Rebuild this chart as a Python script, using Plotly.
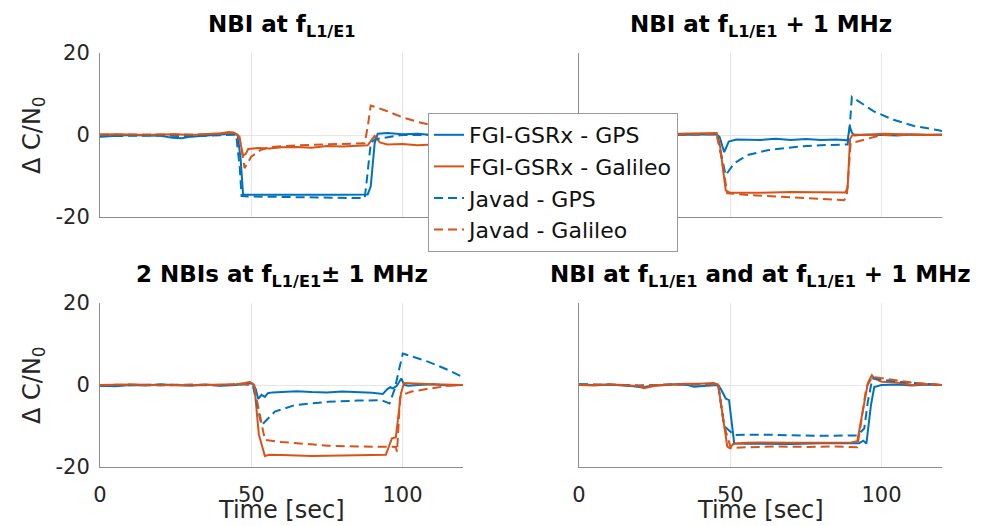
import plotly.graph_objects as go

# ---------------- data ----------------
# Panel A: NBI at f_L1/E1
a_fgi_gps_t = [0, 5, 10, 15, 20, 24, 27, 30, 33, 36, 40, 43, 45.5, 46.5, 47.3, 50, 60, 70, 80, 88.5, 89.5, 90.8, 91.8, 95, 100, 105, 110, 120]
a_fgi_gps_v = [-0.4, -0.2, 0.0, -0.1, -0.2, -0.7, -0.8, -0.4, -0.2, 0.0, 0.2, 0.3, 0.1, -6.0, -14.6, -14.6, -14.7, -14.6, -14.6, -14.5, -12.5, -2.0, 0.3, 0.5, 0.2, 0.3, 0.0, 0.1]
a_fgi_gal_t = [0, 5, 10, 15, 20, 25, 30, 35, 40, 42.5, 44.5, 46, 47.3, 48.2, 49, 52, 56, 60, 65, 70, 75, 80, 85, 88.5, 89.5, 90.8, 92.5, 95, 100, 105, 110, 120]
a_fgi_gal_v = [0.1, 0.2, 0.1, 0.0, 0.1, 0.2, 0.0, 0.2, 0.4, 0.7, 0.5, -0.5, -5.0, -4.6, -3.4, -3.2, -3.3, -3.0, -2.9, -3.1, -2.7, -2.8, -2.6, -2.5, -1.5, -0.2, -1.8, -2.3, -2.2, -2.5, -2.3, -2.4]
a_jav_gps_t = [0, 10, 20, 30, 40, 45, 46.2, 46.8, 50, 60, 70, 80, 87.5, 88.2, 89.5, 91, 95, 100, 110, 120]
a_jav_gps_v = [-0.3, -0.2, -0.1, -0.3, 0.0, 0.1, -8.0, -14.9, -15.0, -15.1, -15.1, -15.3, -15.4, -11.0, -2.0, -1.0, -0.5, 0.0, 0.0, 0.0]
a_jav_gal_t = [0, 10, 20, 30, 40, 44, 46, 47.8, 50, 53, 56, 60, 70, 80, 87.5, 88.5, 89.5, 95, 100, 105, 110, 115, 120]
a_jav_gal_v = [0.1, 0.1, 0.2, 0.1, 0.3, 0.6, 0.0, -8.1, -5.3, -3.7, -3.0, -2.7, -2.4, -2.1, -2.0, 2.0, 7.2, 5.8, 4.3, 3.2, 2.3, 1.6, 1.1]

# Panel B: NBI at f_L1/E1 + 1 MHz
b_fgi_gps_t = [0, 10, 20, 30, 40, 45.5, 46.5, 48, 49.5, 52, 60, 65, 70, 75, 80, 85, 88.8, 89.5, 90.2, 91, 95, 100, 105, 110, 115, 120]
b_fgi_gps_v = [0.0, 0.1, -0.1, 0.0, 0.1, 0.2, -0.5, -4.2, -1.6, -1.1, -1.2, -0.9, -1.2, -1.0, -1.2, -1.1, -1.3, 2.2, 0.6, -0.1, 0.1, 0.0, -0.1, 0.1, 0.0, 0.1]
b_fgi_gal_t = [0, 10, 20, 30, 40, 45.5, 46.5, 48.5, 50, 60, 70, 80, 88, 88.8, 89.6, 90.5, 95, 100, 105, 110, 120]
b_fgi_gal_v = [0.1, 0.2, 0.1, 0.2, 0.3, 0.5, -2.0, -13.5, -14.1, -14.1, -13.9, -14.0, -14.0, -13.0, -1.0, 0.1, 0.0, 0.3, 0.2, 0.1, 0.0]
b_jav_gps_t = [0, 10, 20, 30, 40, 45.5, 48.5, 51.3, 55.7, 62.3, 73.3, 80, 88.8, 89.5, 90.2, 93, 97.6, 104, 110.8, 118.5, 120]
b_jav_gps_v = [-0.2, -0.1, 0.0, 0.0, 0.1, 0.2, -9.8, -6.9, -4.9, -3.7, -2.8, -2.5, -2.3, 2.0, 9.3, 8.0, 5.7, 3.7, 2.2, 1.2, 1.0]
b_jav_gal_t = [0, 10, 20, 30, 40, 45.5, 47, 49, 55, 64.5, 75, 87.6, 88.5, 89.8, 95, 100, 110, 120]
b_jav_gal_v = [0.0, 0.1, 0.2, 0.1, 0.2, 0.3, -5.0, -14.2, -14.6, -15.0, -15.4, -15.9, -15.0, -2.0, -1.0, 0.0, 0.0, 0.0]

# Panel C: 2 NBIs at f_L1/E1 +- 1 MHz
c_fgi_gps_t = [0, 5, 10, 15, 20, 25, 30, 35, 40, 45, 49, 50.5, 51.5, 52.3, 53.4, 54.5, 55.5, 57, 60, 65, 70, 75, 80, 85, 90, 93.5, 95, 96, 96.8, 98, 99.6, 100.6, 102, 105, 110, 115, 120]
c_fgi_gps_v = [-0.2, -0.3, 0.0, -0.1, 0.1, 0.0, -0.1, 0.1, -0.2, 0.0, 0.4, 0.3, -1.0, -3.4, -2.4, -2.9, -2.0, -1.8, -1.7, -1.5, -1.7, -1.8, -1.6, -1.7, -1.9, -2.2, -1.0, -0.5, -0.8, -0.3, 1.6, 0.0, -0.2, 0.0, 0.2, -0.1, 0.0]
c_fgi_gal_t = [0, 10, 20, 30, 40, 45, 48, 49.5, 51, 52.5, 54.5, 56, 60, 70, 80, 90, 94.5, 95.5, 96.5, 97.8, 98.5, 99.5, 100.5, 105, 110, 120]
c_fgi_gal_v = [0.0, 0.1, 0.0, -0.1, 0.1, 0.2, 0.5, 0.8, 0.0, -12.0, -17.3, -17.0, -17.1, -17.3, -17.2, -17.1, -17.0, -15.0, -13.0, -12.8, -8.0, -2.0, 0.5, 0.3, 0.2, 0.0]
c_jav_gps_t = [0, 10, 20, 30, 40, 48, 50.5, 53.4, 57.8, 64.4, 75.4, 85, 93, 95.7, 97.4, 100.1, 108.4, 115, 120]
c_jav_gps_v = [-0.2, 0.0, 0.1, 0.0, -0.1, 0.2, 0.0, -9.8, -6.5, -4.9, -4.1, -3.8, -3.7, -4.5, -1.0, 7.7, 5.7, 3.7, 1.9]
c_jav_gal_t = [0, 10, 20, 30, 40, 48, 51, 53, 54.5, 60, 64.4, 75.4, 85, 95, 97.8, 98.2, 99.2, 100, 103, 108, 116, 120]
c_jav_gal_v = [0.0, 0.1, -0.1, 0.1, 0.0, 0.3, -0.5, -8.0, -13.4, -13.9, -14.2, -14.8, -15.0, -15.0, -15.1, -16.3, -3.0, -2.4, -1.6, -1.0, -0.1, 0.0]

# Panel D: NBI at f_L1/E1 and at f_L1/E1 + 1 MHz
d_fgi_gps_t = [0, 5, 10, 15, 18, 21, 24, 28, 32, 36, 38, 40, 44, 46, 46.9, 48.5, 49.6, 50.5, 51.3, 55, 60, 70, 80, 90, 92.6, 94, 95, 96.5, 97.6, 100, 105, 110, 115, 120]
d_fgi_gps_v = [0.1, 0.0, 0.1, -0.1, -0.3, -0.6, -0.2, 0.0, 0.2, 0.0, -0.4, -0.3, -0.2, 0.0, -1.0, -3.3, -3.7, -10.0, -14.2, -14.3, -14.3, -14.4, -14.2, -14.3, -14.2, -13.6, -14.3, -5.0, -0.5, 0.0, 0.1, -0.1, 0.1, 0.0]
d_fgi_gal_t = [0, 5, 10, 15, 20, 21.5, 25, 30, 35, 40, 44.5, 46, 47.5, 49, 49.8, 51, 55, 60, 70, 80, 90, 92, 94, 95.5, 96.8, 98, 100, 105, 110, 115, 120]
d_fgi_gal_v = [0.0, -0.1, 0.1, 0.0, -0.3, -0.8, -0.2, 0.1, 0.3, 0.3, 0.5, 0.1, -8.0, -15.0, -15.4, -14.4, -14.1, -14.0, -14.1, -14.0, -14.0, -13.7, -6.0, 0.5, 2.4, 1.5, 0.8, 0.6, 0.0, 0.2, 0.0]
d_jav_gps_t = [0, 10, 20, 30, 40, 46, 48, 49.5, 51.3, 60, 70, 80, 92, 94.3, 95.5, 97, 105, 112, 120]
d_jav_gps_v = [0.2, 0.1, -0.1, 0.1, 0.0, 0.1, -10.0, -11.0, -12.2, -12.1, -12.3, -12.4, -12.3, -10.6, -4.0, 1.6, 0.8, 0.4, 0.0]
d_jav_gal_t = [0, 10, 20, 30, 40, 46, 48, 50.2, 55, 65, 75, 85, 92, 93.5, 95, 97, 102, 110, 120]
d_jav_gal_v = [0.0, 0.1, -0.2, 0.1, 0.2, 0.1, -10.0, -15.4, -15.2, -15.0, -15.1, -15.0, -15.2, -8.0, -0.5, 2.0, 1.4, 0.6, 0.0]

series_names = ["FGI-GSRx - GPS", "FGI-GSRx - Galileo", "Javad - GPS", "Javad - Galileo"]
panel_titles = [
    "NBI at f<sub>L1/E1</sub>",
    "NBI at f<sub>L1/E1</sub> + 1 MHz",
    "2 NBIs at f<sub>L1/E1</sub>± 1 MHz",
    "NBI at f<sub>L1/E1</sub> and at f<sub>L1/E1</sub> + 1 MHz",
]
x_ticks = [0, 50, 100]
x_ticktext = ["0", "50", "100"]
y_ticks = [-20, 0, 20]
y_ticktext = ["-20", "0", "20"]
x_range = [0, 120]
y_range = [-20, 20]

# ---------------- styling ----------------
OFF = 8                      # page body margin of the browser
W, H = 988 - OFF, 526 - OFF  # figure size so it fits in the window
BLUE = "#0072BD"
ORANGE = "#D95319"
FONT = "DejaVu Sans"
styles = [
    dict(color=BLUE, dash="solid"),
    dict(color=ORANGE, dash="solid"),
    dict(color=BLUE, dash="9px,5px"),
    dict(color=ORANGE, dash="9px,5px"),
]


def px_x(px):
    return (px - OFF) / W


def px_y(py):
    return 1 - (py - OFF) / H


panels = [
    [(a_fgi_gps_t, a_fgi_gps_v), (a_fgi_gal_t, a_fgi_gal_v), (a_jav_gps_t, a_jav_gps_v), (a_jav_gal_t, a_jav_gal_v)],
    [(b_fgi_gps_t, b_fgi_gps_v), (b_fgi_gal_t, b_fgi_gal_v), (b_jav_gps_t, b_jav_gps_v), (b_jav_gal_t, b_jav_gal_v)],
    [(c_fgi_gps_t, c_fgi_gps_v), (c_fgi_gal_t, c_fgi_gal_v), (c_jav_gps_t, c_jav_gps_v), (c_jav_gal_t, c_jav_gal_v)],
    [(d_fgi_gps_t, d_fgi_gps_v), (d_fgi_gal_t, d_fgi_gal_v), (d_jav_gps_t, d_jav_gps_v), (d_jav_gal_t, d_jav_gal_v)],
]

# window-pixel boxes of the four axes: (left, right, top, bottom)
boxes = [(100, 463, 53, 217), (579, 942, 53, 217), (100, 463, 303, 467), (579, 942, 303, 467)]

fig = go.Figure()
for p, series in enumerate(panels):
    xa = "x" if p == 0 else f"x{p+1}"
    ya = "y" if p == 0 else f"y{p+1}"
    for s, (t, v) in enumerate(series):
        fig.add_trace(go.Scatter(
            x=t, y=v, mode="lines", name=series_names[s],
            legendgroup=series_names[s], showlegend=(p == 0),
            line=dict(color=styles[s]["color"], dash=styles[s]["dash"], width=2),
            xaxis=xa, yaxis=ya,
        ))

layout = dict(
    width=W, height=H, margin=dict(l=0, r=0, t=0, b=0, autoexpand=False),
    paper_bgcolor="white", plot_bgcolor="white",
    font=dict(family=FONT, color="#262626"),
    showlegend=True,
    legend=dict(
        x=px_x(428), y=px_y(113), xanchor="left", yanchor="top",
        bgcolor="white", bordercolor="#9a9a9a", borderwidth=1,
        font=dict(family=FONT, size=22, color="#111111"),
        tracegroupgap=2, itemwidth=30, traceorder="normal",
    ),
)
annotations = []
for p, (l, r, t, b) in enumerate(boxes):
    xkey = "xaxis" if p == 0 else f"xaxis{p+1}"
    ykey = "yaxis" if p == 0 else f"yaxis{p+1}"
    anchor_x = "y" if p == 0 else f"y{p+1}"
    anchor_y = "x" if p == 0 else f"x{p+1}"
    layout[xkey] = dict(
        domain=[px_x(l), px_x(r)], anchor=anchor_x, range=x_range,
        tickmode="array", tickvals=x_ticks, ticktext=x_ticktext,
        automargin=False,
        showgrid=True, gridcolor="#e6e6e6", gridwidth=1, zeroline=False,
        showline=True, linecolor="#8c8c8c", linewidth=1, ticks="",
        showticklabels=(p >= 2), ticklabelstandoff=9,
        tickfont=dict(family=FONT, size=21, color="#262626"),
    )
    layout[ykey] = dict(
        domain=[px_y(b), px_y(t)], anchor=anchor_y, range=y_range,
        tickmode="array", tickvals=y_ticks, ticktext=y_ticktext,
        automargin=False,
        showgrid=True, gridcolor="#e6e6e6", gridwidth=1, zeroline=False,
        showline=True, linecolor="#8c8c8c", linewidth=1, ticks="",
        showticklabels=(p % 2 == 0), ticklabelstandoff=5,
        tickfont=dict(family=FONT, size=21, color="#262626"),
    )
    # panel title
    annotations.append(dict(
        text="<b>" + panel_titles[p] + "</b>", xref="paper", yref="paper",
        x=px_x((l + r) / 2), y=px_y(t - 10), xanchor="center", yanchor="bottom",
        showarrow=False, font=dict(family=FONT, size=23, color="black"),
    ))
    if p % 2 == 0:
        annotations.append(dict(
            text="Δ C/N<sub>0</sub>", xref="paper", yref="paper", textangle=-90,
            x=px_x(33), y=px_y((t + b) / 2), xanchor="center", yanchor="middle",
            showarrow=False, font=dict(family=FONT, size=24, color="#262626"),
        ))
    if p >= 2:
        annotations.append(dict(
            text="Time [sec]", xref="paper", yref="paper",
            x=px_x((l + r) / 2), y=px_y(510), xanchor="center", yanchor="middle",
            showarrow=False, font=dict(family=FONT, size=24, color="#262626"),
        ))
layout["annotations"] = annotations
fig.update_layout(**layout)

fig.write_html("out.html")
